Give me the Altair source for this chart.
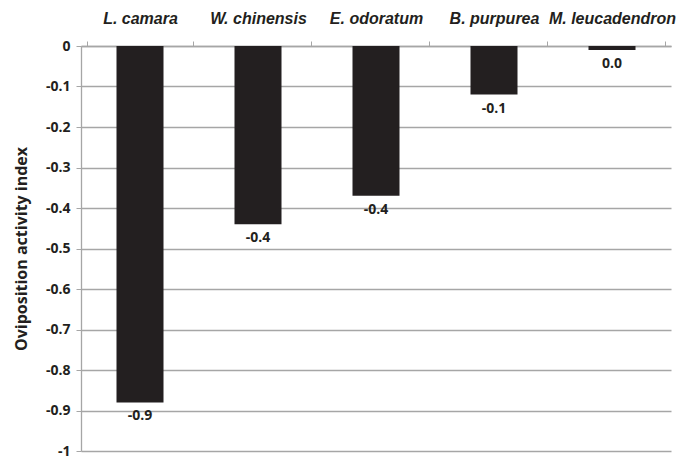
import altair as alt
import pandas as pd

species = ["L. camara", "W. chinensis", "E. odoratum", "B. purpurea", "M. leucadendron"]
values = [-0.88, -0.44, -0.37, -0.12, -0.01]
labels = ["-0.9", "-0.4", "-0.4", "-0.1", "0.0"]
yticks = [0, -0.1, -0.2, -0.3, -0.4, -0.5, -0.6, -0.7, -0.8, -0.9, -1]

df = pd.DataFrame({"species": species, "value": values, "label": labels})

x = alt.X("species:N", sort=species, title=None,
          axis=alt.Axis(orient="top", labelAngle=0, labelFont="Liberation Sans",
                        labelFontStyle="italic", labelFontWeight="bold", labelFontSize=16,
                        labelColor="#231f20", labelPadding=15, tickBand="extent",
                        tickSize=5, tickColor="#a6a6a6", domainColor="#a6a6a6",
                        domainWidth=1.5, grid=False))
y = alt.Y("value:Q", scale=alt.Scale(domain=[-1, 0], nice=False),
          title="Oviposition activity index",
          axis=alt.Axis(values=yticks,
                        labelExpr="replace(format(datum.value, '~g'), '\u2212', '-')",
                        labelFont="Open Sans", labelFontWeight="bold", labelFontSize=14,
                        labelColor="#231f20", labelPadding=6,
                        titleFont="Open Sans", titleFontWeight="bold", titleFontSize=16,
                        titleColor="#231f20", titlePadding=16,
                        grid=True, gridColor="#a6a6a6", gridWidth=1.3,
                        tickSize=5, tickColor="#a6a6a6", domainColor="#a6a6a6",
                        domainWidth=1.3))

bars = alt.Chart(df).mark_bar(color="#231f20", size=47).encode(x=x, y=y, y2=alt.datum(0))
text = alt.Chart(df).mark_text(font="Open Sans", fontWeight="bold", fontSize=14,
                               color="#231f20", baseline="top", dy=7).encode(
    x=alt.X("species:N", sort=species), y="value:Q", text="label:N")

chart = (bars + text).properties(
    width=590, height=405,
    padding={"left": 73, "top": 38, "right": 5, "bottom": 12},
    autosize=alt.AutoSizeParams(type="none"),
).configure_view(stroke=None)

chart.save("out.html", embed_options={"renderer": "svg", "actions": False})
